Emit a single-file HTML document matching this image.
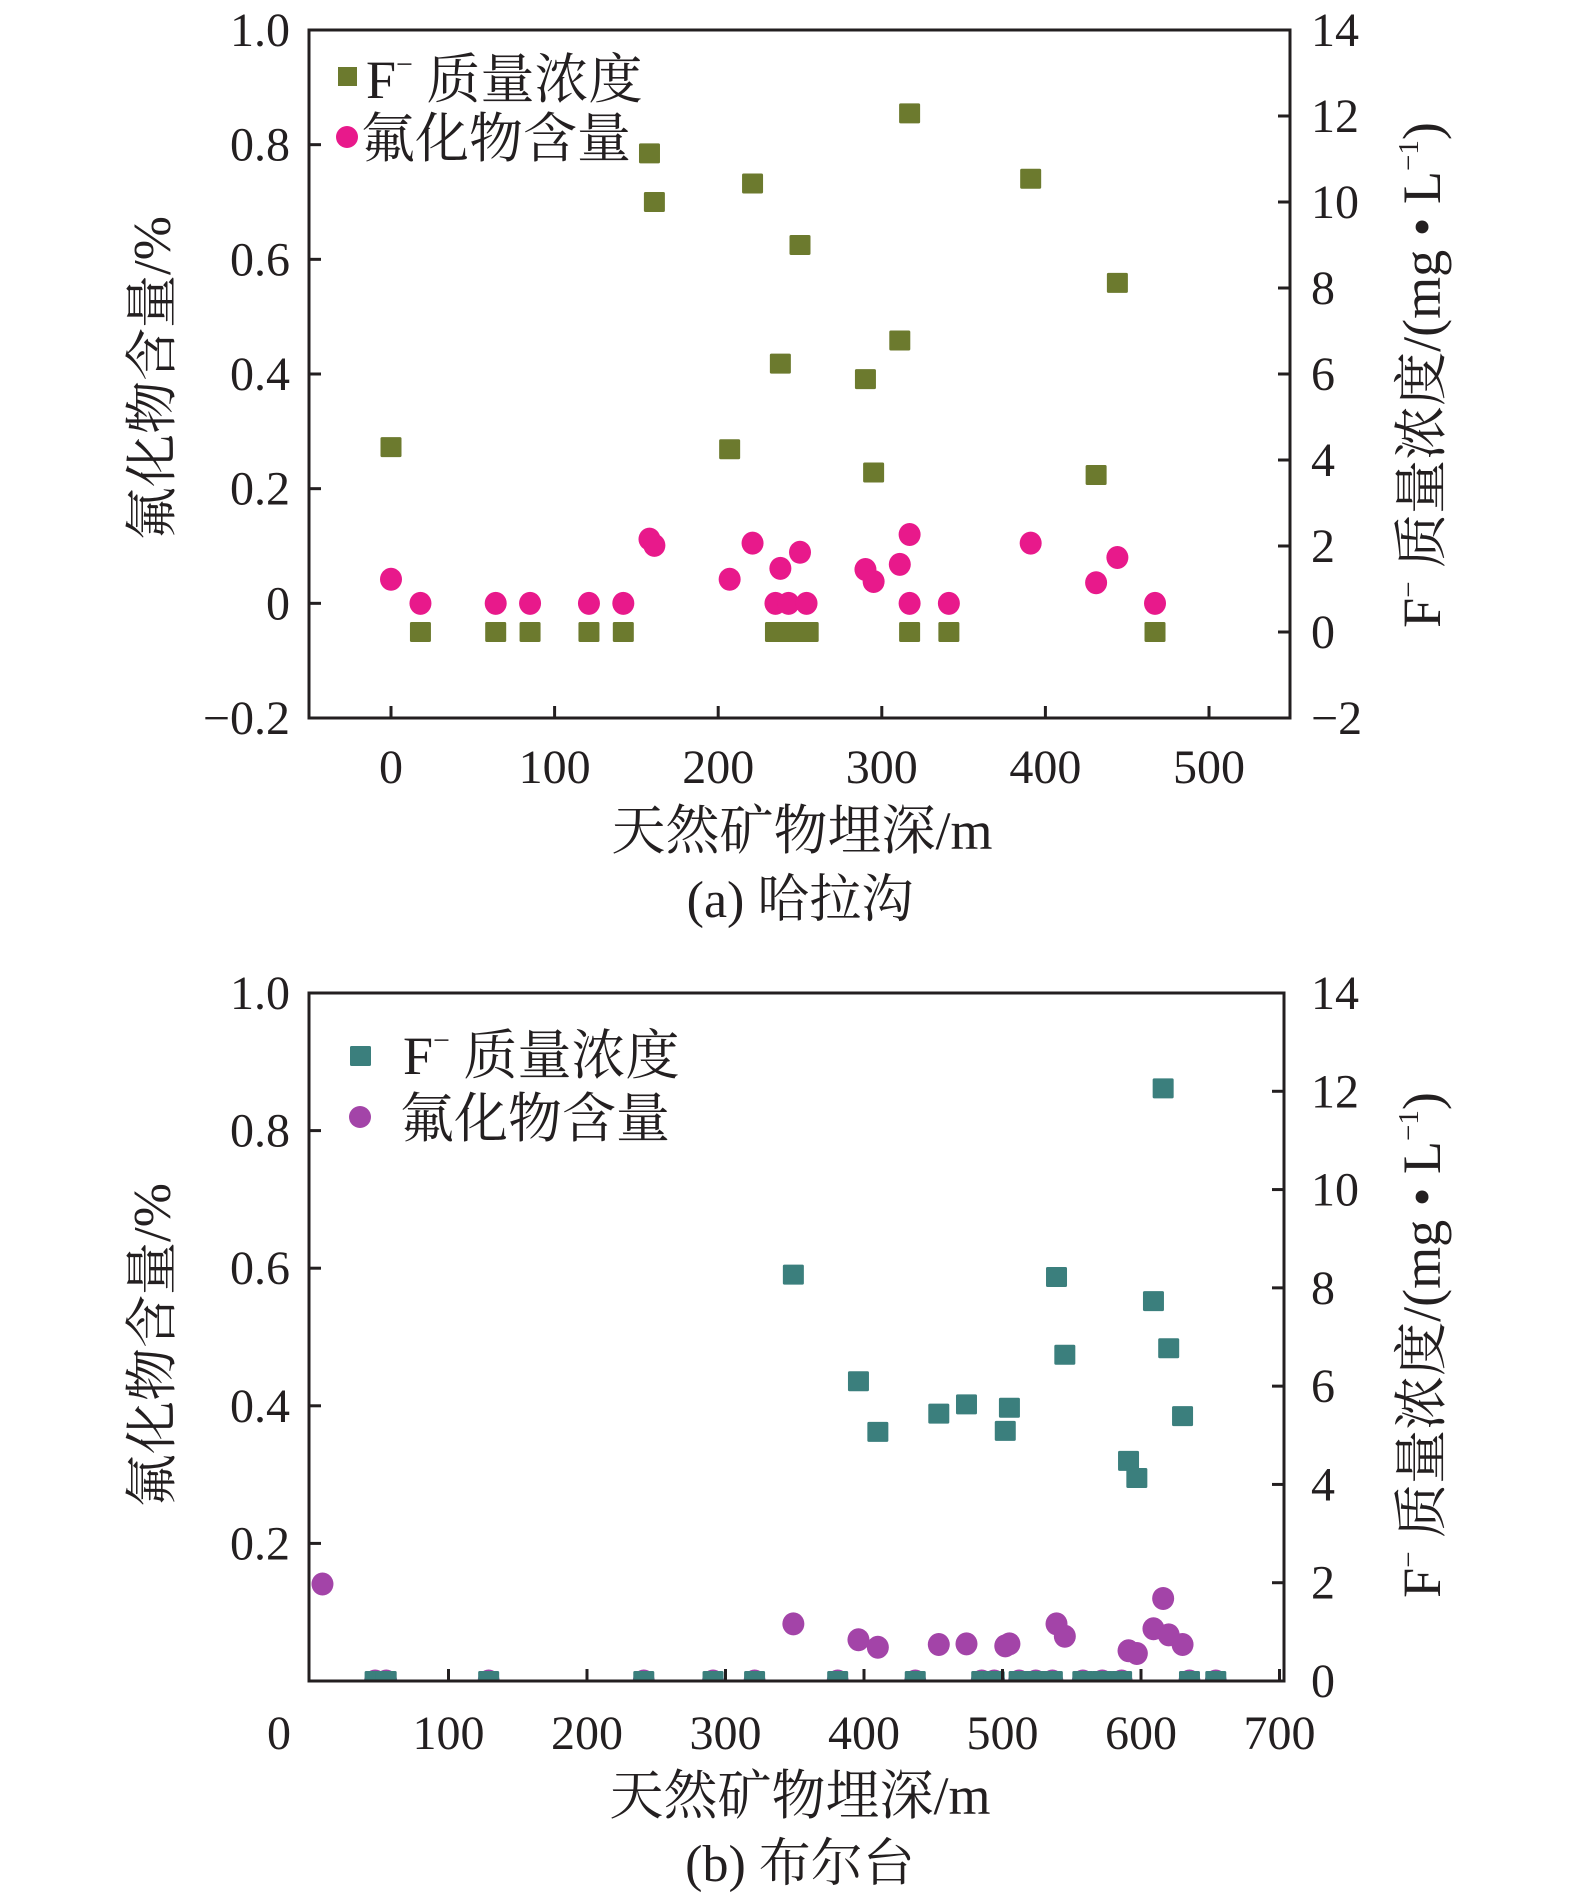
<!DOCTYPE html>
<html><head><meta charset="utf-8">
<style>
html,body{margin:0;padding:0;background:#fff;}
svg{display:block;}
text{font-family:"Liberation Serif","Noto Serif CJK SC",serif;fill:#231f20;}
</style></head>
<body>
<svg id="fig" width="1575" height="1896" viewBox="0 0 1575 1896" xmlns="http://www.w3.org/2000/svg"></svg>
<script>
// ---- Chart (a) 哈拉沟 data ----
const aSqDepth = [0,18,64,85,121,142,158,161,207,221,238,235,243,250,255,250,290,295,311,317,317,341,391,431,444,467];
const aSqF     = [4.3,0,0,0,0,0,11.13,10.0,4.25,10.43,6.24,0,0,0,0,9.0,5.88,3.71,6.78,12.06,0,0,10.54,3.65,8.12,0];
const aCiDepth = [0,18,64,85,121,142,158,161,207,221,238,235,243,254,250,290,295,311,317,317,341,391,431,444,467];
const aCiVal   = [0.042,0,0,0,0,0,0.112,0.101,0.042,0.105,0.061,0,0,0,0.089,0.059,0.038,0.068,0.120,0,0,0.105,0.036,0.080,0];
const aXTicks = [0,100,200,300,400,500];
const aLTicks = [-0.2,0,0.2,0.4,0.6,0.8,1.0];
const aLLabels = ["\u22120.2","0","0.2","0.4","0.6","0.8","1.0"];
const aRTicks = [-2,0,2,4,6,8,10,12,14];
const aRLabels = ["\u22122","0","2","4","6","8","10","12","14"];
// ---- Chart (b) 布尔台 data ----
const bSqDepth = [47,55,129,241,291,321,381,437,485,494,512,524,536,558,572,586,635,654,
                  349,396,410,454,474,502,505,539,545,591,597,609,616,620,630];
const bSqF     = [0,0,0,0,0,0,0,0,0,0,0,0,0,0,0,0,0,0,
                  8.27,6.10,5.07,5.44,5.63,5.09,5.56,8.22,6.64,4.48,4.13,7.73,12.06,6.77,5.39];
const bCiDepth = [47,55,129,241,291,321,381,437,485,494,512,524,536,558,572,586,635,654,
                  9,349,396,410,454,474,502,505,539,545,591,597,609,616,620,630];
const bCiVal   = [0,0,0,0,0,0,0,0,0,0,0,0,0,0,0,0,0,0,
                  0.141,0.083,0.060,0.049,0.053,0.054,0.051,0.054,0.083,0.065,0.044,0.040,0.076,0.120,0.067,0.053];
const bXTicks = [100,200,300,400,500,600,700];
const bLTicks = [0.2,0.4,0.6,0.8,1.0];
const bRTicks = [0,2,4,6,8,10,12,14];

const NS="http://www.w3.org/2000/svg";
const svg=document.getElementById('fig');
function mk(tag,attrs,parent,txt){const e=document.createElementNS(NS,tag);for(const k in attrs)e.setAttribute(k,attrs[k]);if(txt!==undefined)e.textContent=txt;(parent||svg).appendChild(e);return e;}

function chart(cfg){
  const g=mk('g',{});
  
  
  const L=cfg.L,R=cfg.R,T=cfg.T,B=cfg.B;
  const xs=v=>cfg.x0+v*cfg.xk;
  const yl=v=>B-(v-cfg.lmin)/(cfg.lmax-cfg.lmin)*(B-T);
  const yr=v=>B-(v-cfg.rmin)/(cfg.rmax-cfg.rmin)*(B-T);
  const cid='clip-'+cfg.name;
  const defs=mk('defs',{},g);const cp=mk('clipPath',{id:cid},defs);mk('rect',{x:L,y:T,width:R-L,height:B-T},cp);
  const marks=mk('g',{'clip-path':'url(#'+cid+')'},g);
  
  
  cfg.ciD.forEach((d,i)=>{const c=mk('ellipse',{cx:xs(d),cy:yl(cfg.ciV[i]),rx:11,ry:11.5,fill:cfg.cc},marks);
    
    });
  cfg.sqD.forEach((d,i)=>{const s=mk('rect',{x:xs(d)-10.5,y:yr(cfg.sqV[i])-10,width:21,height:20,fill:cfg.sc,rx:1.5},marks);
    
    });
  const fr=mk('rect',{x:L,y:T,width:R-L,height:B-T,fill:'none',stroke:'#231f20','stroke-width':3},g);
  
  
  cfg.xt.forEach(v=>{const x=xs(v);mk('line',{x1:x,y1:B,x2:x,y2:B-12,stroke:'#231f20','stroke-width':3},g);
    const t=mk('text',{x:x,y:cfg.xly,'font-size':48,'text-anchor':'middle'},g,String(v));
    
    });
  cfg.lt.forEach((v,i)=>{const y=yl(v);mk('line',{x1:L,y1:y,x2:L+12,y2:y,stroke:'#231f20','stroke-width':3},g);
    const t=mk('text',{x:290,y:y+16,'font-size':48,'text-anchor':'end'},g,cfg.ll?cfg.ll[i]:String(v.toFixed(1)));
    
    });
  cfg.rt.forEach((v,i)=>{const y=yr(v);mk('line',{x1:R,y1:y,x2:R-12,y2:y,stroke:'#231f20','stroke-width':3},g);
    const t=mk('text',{x:1311,y:y+16,'font-size':48,'text-anchor':'start'},g,cfg.rl?cfg.rl[i]:String(v));
    
    });
  return {g,xs,yl,yr};
}

const a=chart({name:'chart-a',L:309,R:1290,T:30,B:718,x0:391,xk:1.636,lmin:-0.2,lmax:1.0,rmin:-2,rmax:14,
  sqD:aSqDepth,sqV:aSqF,ciD:aCiDepth,ciV:aCiVal,sc:'#6c7a2e',cc:'#e8198b',
  xt:aXTicks,lt:aLTicks,ll:aLLabels,rt:aRTicks,rl:aRLabels,xly:783});
const b=chart({name:'chart-b',L:309,R:1284,T:993,B:1681,x0:310,xk:1.385,lmin:0,lmax:1.0,rmin:0,rmax:14,
  sqD:bSqDepth,sqV:bSqF,ciD:bCiDepth,ciV:bCiVal,sc:'#3b7f7d',cc:'#a344a8',
  xt:bXTicks,lt:bLTicks,rt:bRTicks,xly:1749});
</script>
<svg style="position:absolute;left:0;top:0" width="1575" height="1896">
  <rect x="338" y="67" width="19" height="19" fill="#6c7a2e"/>
  <text x="366" y="98" font-size="54">F<tspan dy="-24" font-size="30">−</tspan><tspan dy="24"> 质量浓度</tspan></text>
  <circle cx="347" cy="137" r="11" fill="#e8198b"/>
  <text x="361" y="157" font-size="54">氟化物含量</text>
  <text x="802" y="849" font-size="54" text-anchor="middle">天然矿物埋深/m</text>
  <text x="800" y="917" font-size="52" text-anchor="middle">(a) 哈拉沟</text>
  <text transform="translate(170,378) rotate(-90)" font-size="53" text-anchor="middle">氟化物含量/%</text>
  <text transform="translate(1440,375) rotate(-90)" font-size="54" text-anchor="middle">F<tspan dy="-22" font-size="29">−</tspan><tspan dy="22"> 质量浓度/(mg • L</tspan><tspan dy="-22" font-size="29">−1</tspan><tspan dy="22">)</tspan></text>
  <rect x="350" y="1046" width="21" height="20" fill="#3b7f7d" rx="1.5"/>
  <text x="403" y="1074" font-size="54">F<tspan dy="-24" font-size="30">−</tspan><tspan dy="24"> 质量浓度</tspan></text>
  <circle cx="360" cy="1117" r="11" fill="#a344a8"/>
  <text x="400" y="1137" font-size="54">氟化物含量</text>
  <text x="279" y="1749" font-size="48" text-anchor="middle">0</text>
  <text x="800" y="1814" font-size="54" text-anchor="middle">天然矿物埋深/m</text>
  <text x="800" y="1881" font-size="52" text-anchor="middle">(b) 布尔台</text>
  <text transform="translate(170,1345) rotate(-90)" font-size="53" text-anchor="middle">氟化物含量/%</text>
  <text transform="translate(1440,1345) rotate(-90)" font-size="54" text-anchor="middle">F<tspan dy="-22" font-size="29">−</tspan><tspan dy="22"> 质量浓度/(mg • L</tspan><tspan dy="-22" font-size="29">−1</tspan><tspan dy="22">)</tspan></text>
</svg>
</body></html>
